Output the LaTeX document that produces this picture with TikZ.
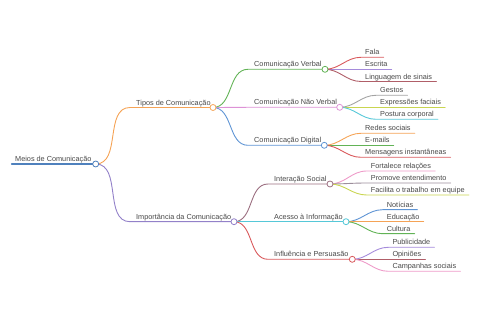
\documentclass[tikz,border=0pt]{standalone}
\usepackage{fontspec}
\setmainfont{Liberation Sans}
\usetikzlibrary{positioning}

\definecolor{mBlue}{HTML}{4F81BD}
\definecolor{mOrange}{HTML}{F5A356}
\definecolor{mPurple}{HTML}{9381C9}
\definecolor{mGreen}{HTML}{62B356}
\definecolor{mPink}{HTML}{DD92D6}
\definecolor{mSky}{HTML}{5E94D4}
\definecolor{mRed}{HTML}{D9595C}
\definecolor{mViolet}{HTML}{A58BDB}
\definecolor{mBrown}{HTML}{B05E68}
\definecolor{mGrey}{HTML}{A3A3A3}
\definecolor{mLime}{HTML}{C9D550}
\definecolor{mCyan}{HTML}{56C8D8}
\definecolor{mMauve}{HTML}{9B6E80}
\definecolor{mRose}{HTML}{EE9BC9}
\definecolor{mSlate}{HTML}{9C8E9B}

\begin{document}
\begin{tikzpicture}[x=1pt,y=-1pt,line cap=round,line join=round,
  lbl/.style={inner xsep=0pt,inner ysep=0.4pt,text depth=1.8pt,text=black!72,font=\fontsize{7.3}{8.5}\selectfont},
  knob/.style={circle,draw,fill=white,inner sep=0pt,minimum size=6pt,line width=0.8pt},
  link/.style={line width=0.9pt,out=0,in=180}]
  \useasboundingbox (0,0) rectangle (480,320);

  % root
  \coordinate (root-in) at (11.7,164);
  \coordinate (root-c) at (95.7,164);
  \node[lbl,above right=0pt and 3.3pt of root-in] (root) {Meios de Comunicação};
  \draw[mBlue,line width=1.7pt] (root-in) -- (root-c);

  % first level
  \foreach \nm/\y/\xc/\col/\txt in {tipos/107.5/213/mOrange/Tipos de Comunicação,
                                     imp/221.7/234/mPurple/Importância da Comunicação} {
    \coordinate (\nm-in) at (130,\y);
    \coordinate (\nm-c) at (\xc,\y);
    \node[lbl,above right=0pt and 6pt of \nm-in] (\nm) {\txt};
    \draw[link,\col] (root-c) to (\nm-in) -- (\nm-c);
  }

  % second level
  \foreach \up/\nm/\x/\y/\xc/\col/\txt in {
      tipos/verbal/248/69.3/325/mGreen/Comunicação Verbal,
      tipos/naover/248/107.3/339.7/mPink/Comunicação Não Verbal,
      tipos/digital/248/145.3/324.3/mSky/Comunicação Digital,
      imp/social/268/184/330/mMauve/Interação Social,
      imp/acesso/268/221.7/346/mCyan/Acesso à Informação,
      imp/influ/268/259.3/352.3/mRed/Influência e Persuasão} {
    \coordinate (\nm-in) at (\x,\y);
    \coordinate (\nm-c) at (\xc,\y);
    \node[lbl,above right=0pt and 6pt of \nm-in] (\nm) {\txt};
    \draw[link,\col] (\up-c) to (\nm-in) -- (\nm-c);
  }

  % leaves
  \foreach \up/\x/\y/\col/\txt [count=\i] in {
      verbal/361/57.3/mRed/Fala, verbal/361/69.3/mViolet/Escrita, verbal/361/81.5/mBrown/Linguagem de sinais,
      naover/376/95.3/mGrey/Gestos, naover/376/107.3/mLime/Expressões faciais, naover/376/119.3/mCyan/Postura corporal,
      digital/361/133.3/mOrange/Redes sociais, digital/361/145.3/mGreen/E-mails, digital/361/157.3/mRed/Mensagens instantâneas,
      social/366.7/171/mRose/Fortalece relações, social/366.7/183/mSlate/Promove entendimento, social/366.7/195/mLime/Facilita o trabalho em equipe,
      acesso/382.7/209.7/mSky/Notícias, acesso/382.7/221.7/mOrange/Educação, acesso/382.7/233.7/mGreen/Cultura,
      influ/388.3/247.3/mViolet/Publicidade, influ/388.3/259.3/mBrown/Opiniões, influ/388.3/271.3/mRose/Campanhas sociais} {
    \coordinate (leaf\i-in) at (\x,\y);
    \node[lbl,above right=0pt and 4pt of leaf\i-in] (leaf\i) {\txt};
    \draw[link,\col] (\up-c) to (leaf\i-in) -- ([xshift=4pt]leaf\i.south east);
  }

  % knobs on top
  \foreach \nm/\col in {root/mBlue,tipos/mOrange,imp/mPurple,verbal/mGreen,naover/mPink,
                        digital/mSky,social/mMauve,acesso/mCyan,influ/mRed}
    \node[knob,draw=\col] (\nm-k) at (\nm-c) {};
\end{tikzpicture}
\end{document}
